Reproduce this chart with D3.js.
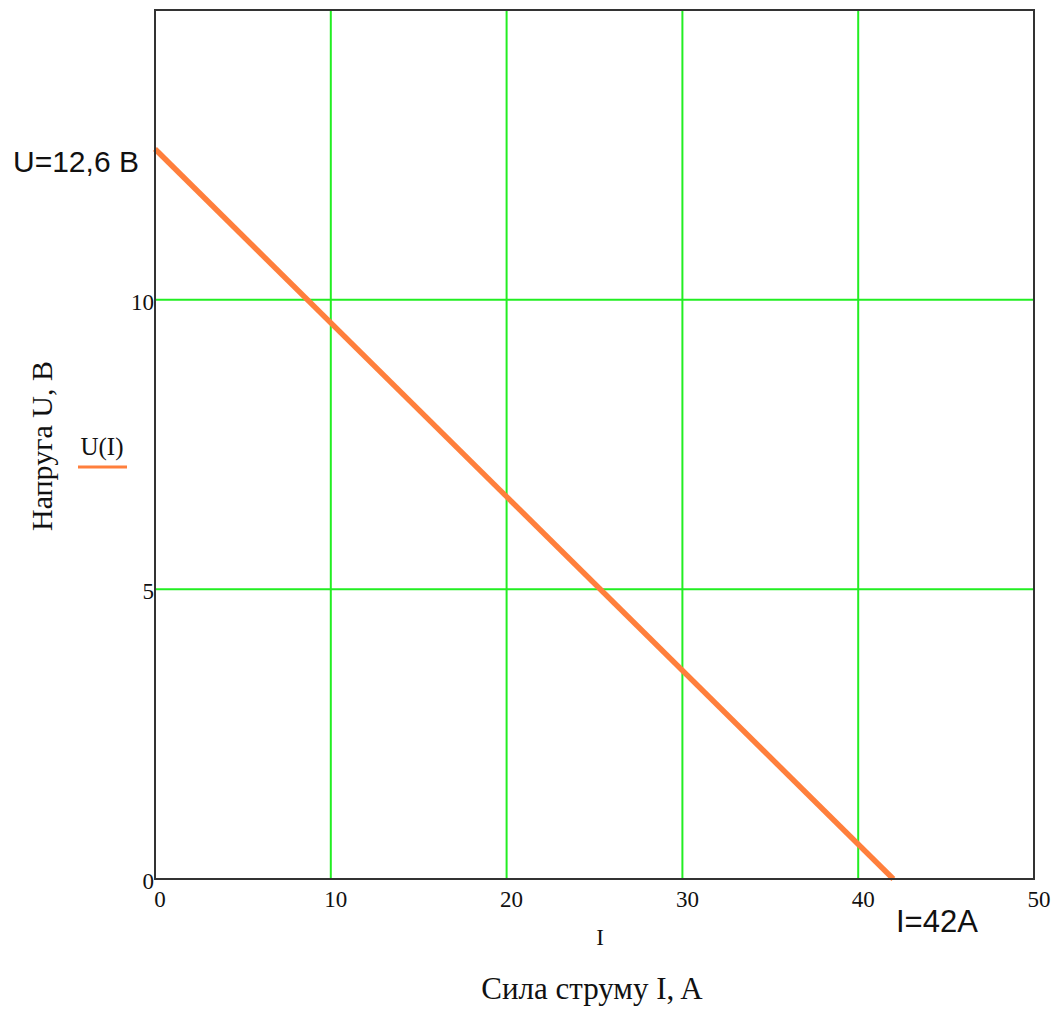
<!DOCTYPE html>
<html>
<head>
<meta charset="utf-8">
<script src="https://cdn.jsdelivr.net/npm/d3@7"></script>
<style>
  html, body { margin: 0; padding: 0; background: #fff; }
  svg { display: block; }
</style>
</head>
<body>
<svg id="chart" width="1058" height="1010"></svg>
<script>
// Data
const currentI = [0, 42];          // A
const voltageU = [12.6, 0];        // V
const xTicks = [0, 10, 20, 30, 40, 50];
const yTicks = [0, 5, 10];
const xDomain = [0, 50];
const yDomain = [0, 15];
const seriesName = "U(I)";
const xTitle = "Сила струму I, A";
const xVarLabel = "I";
const yTitle = "Напруга U, B";
const annU = "U=12,6 B";
const annI = "I=42A";

const svg = d3.select("#chart");
const m = { left: 155, right: 1034, top: 10, bottom: 879 };
const x = d3.scaleLinear().domain(xDomain).range([m.left, m.right]);
const y = d3.scaleLinear().domain(yDomain).range([m.bottom, m.top]);

const serif = "'Liberation Serif','Times New Roman',serif";
const sans = "'Liberation Sans',Arial,sans-serif";

// grid
const grid = svg.append("g");
grid.selectAll("line.vx").data(xTicks.filter(t => t > xDomain[0] && t < xDomain[1]))
  .join("line")
  .attr("x1", d => x(d)).attr("x2", d => x(d))
  .attr("y1", y(yDomain[0])).attr("y2", y(yDomain[1]))
  .attr("stroke", "#22ee22").attr("stroke-width", 2);
grid.selectAll("line.hy").data(yTicks.filter(t => t > yDomain[0] && t < yDomain[1]))
  .join("line")
  .attr("y1", d => y(d)).attr("y2", d => y(d))
  .attr("x1", x(xDomain[0])).attr("x2", x(xDomain[1]))
  .attr("stroke", "#22ee22").attr("stroke-width", 2);

// series line
const pts = currentI.map((c, i) => [c, voltageU[i]]);
svg.append("path")
  .datum(pts)
  .attr("d", d3.line().x(d => x(d[0])).y(d => y(d[1])))
  .attr("fill", "none")
  .attr("stroke", "#ff7f3c")
  .attr("stroke-width", 5.5);

// frame
svg.append("rect")
  .attr("x", x(xDomain[0])).attr("y", y(yDomain[1]))
  .attr("width", x(xDomain[1]) - x(xDomain[0]))
  .attr("height", y(yDomain[0]) - y(yDomain[1]))
  .attr("fill", "none").attr("stroke", "#333").attr("stroke-width", 2);

// x tick labels
svg.append("g").selectAll("text").data(xTicks).join("text")
  .attr("x", d => x(d) + 5)
  .attr("y", y(0) + 28)
  .attr("text-anchor", "middle")
  .attr("font-family", serif).attr("font-size", 23)
  .attr("fill", "#111")
  .text(d => d);

// y tick labels
svg.append("g").selectAll("text").data(yTicks).join("text")
  .attr("x", x(0) - 1)
  .attr("y", d => y(d) + 10)
  .attr("text-anchor", "end")
  .attr("font-family", serif).attr("font-size", 23)
  .attr("fill", "#111")
  .text(d => d);

// axis titles
svg.append("text")
  .attr("x", 600).attr("y", 945)
  .attr("text-anchor", "middle")
  .attr("font-family", serif).attr("font-size", 23)
  .attr("fill", "#111")
  .text(xVarLabel);
svg.append("text")
  .attr("x", 592).attr("y", 999)
  .attr("text-anchor", "middle")
  .attr("font-family", serif).attr("font-size", 31)
  .attr("fill", "#111")
  .text(xTitle);
svg.append("text")
  .attr("transform", "translate(52,446) rotate(-90)")
  .attr("text-anchor", "middle")
  .attr("font-family", serif).attr("font-size", 30)
  .attr("fill", "#111")
  .text(yTitle);

// legend
svg.append("text")
  .attr("x", 102).attr("y", 455)
  .attr("text-anchor", "middle")
  .attr("font-family", serif).attr("font-size", 25)
  .attr("fill", "#111")
  .text(seriesName);
svg.append("line")
  .attr("x1", 78).attr("x2", 127).attr("y1", 467).attr("y2", 467)
  .attr("stroke", "#ff7f3c").attr("stroke-width", 3);

// annotations
svg.append("text")
  .attr("x", 13).attr("y", y(voltageU[0]) + 23)
  .attr("font-family", sans).attr("font-size", 30)
  .attr("fill", "#111")
  .text(annU);
svg.append("text")
  .attr("x", 896).attr("y", 932)
  .attr("font-family", sans).attr("font-size", 31)
  .attr("fill", "#111")
  .text(annI);
</script>
</body>
</html>
